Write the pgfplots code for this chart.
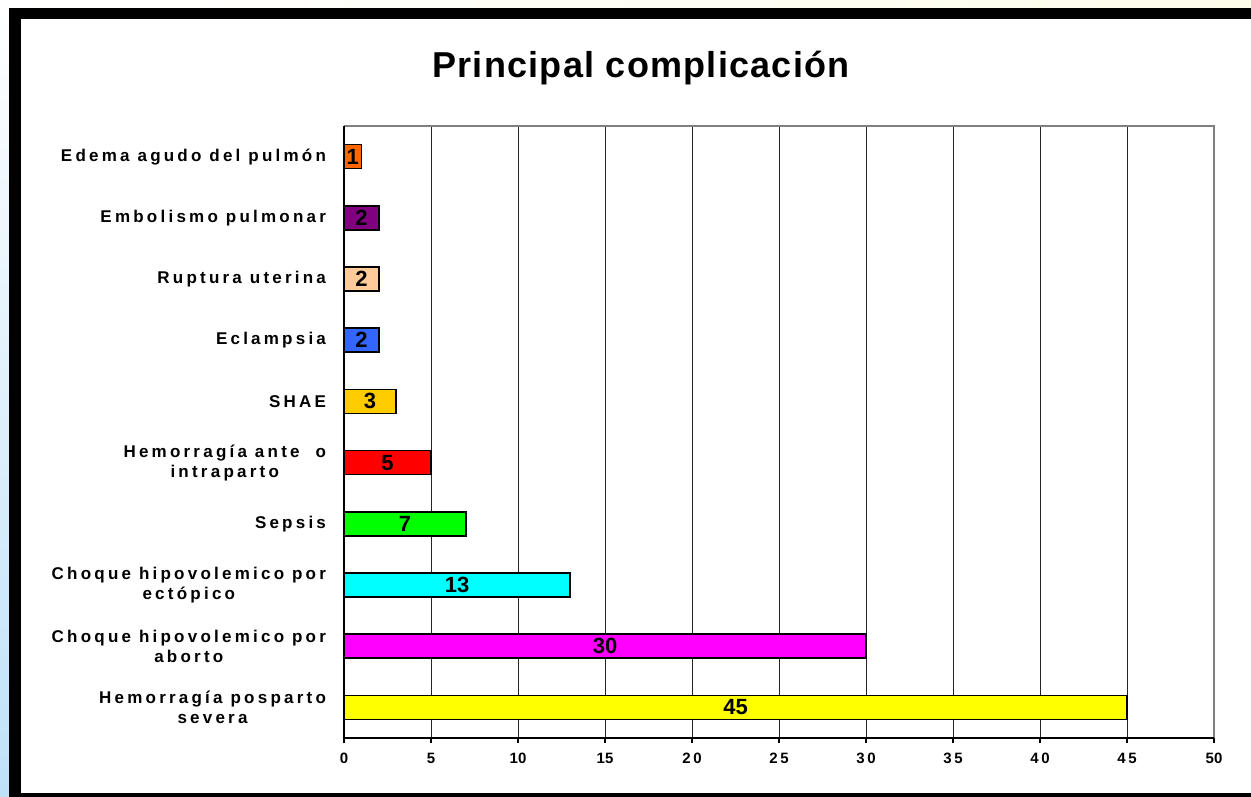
\documentclass[border=0pt]{standalone}
\usepackage{fontspec}
\setmainfont{Liberation Sans}
\newfontfamily\spfont[LetterSpace=19]{Liberation Sans}
\newfontfamily\tickfont[LetterSpace=18]{Liberation Sans}
\newfontfamily\titlefont[LetterSpace=3.5]{Liberation Sans}
\usepackage{pgfplots}
\pgfplotsset{compat=1.18}
\usepackage{pgfplotstable}
\definecolor{cOrange}{RGB}{255,102,0}
\definecolor{cPurple}{RGB}{128,0,128}
\definecolor{cPeach}{RGB}{255,204,153}
\definecolor{cBlue}{RGB}{51,102,255}
\definecolor{cGold}{RGB}{255,204,0}
\definecolor{cRed}{RGB}{255,0,0}
\definecolor{cGreen}{RGB}{0,255,0}
\definecolor{cCyan}{RGB}{0,255,255}
\definecolor{cMagenta}{RGB}{255,0,255}
\definecolor{cYellow}{RGB}{255,255,0}
\pgfplotstableread{
idx v
0 45
1 30
2 13
3 7
4 5
5 3
6 2
7 2
8 2
9 1
}\datatable
\begin{document}
\begin{tikzpicture}
\path[use as bounding box] (0,0) rectangle (625.5bp,-398.5bp);
% frame decorations
\fill[white] (0,0) rectangle (625.5bp,-398.5bp);
\shade[left color=white, right color={rgb,255:red,253;green,252;blue,235}] (0,0) rectangle (625.5bp,-4bp);
\shade[top color=white, bottom color={rgb,255:red,190;green,225;blue,248}] (0,-4bp) rectangle (4.5bp,-398.5bp);
\fill[black] (4.5bp,-4bp) rectangle (625.5bp,-9.5bp);
\fill[black] (4.5bp,-4bp) rectangle (10.5bp,-398.5bp);
\fill[black] (4.5bp,-396.5bp) rectangle (625.5bp,-398.5bp);
\node[font=\titlefont\bfseries\fontsize{18bp}{21bp}\selectfont] at (320.5bp,-34bp) {Principal complicación};
\begin{axis}[
  at={(172bp,-369bp)}, anchor=south west,
  scale only axis, width=435bp, height=306bp,
  xmin=0, xmax=50, ymin=-0.5, ymax=9.5,
  /pgf/number format/assume math mode=true,
  xtick={0,5,...,50},
  xtick pos=bottom, ytick pos=left,
  xticklabels={0,5,10,15,{\tickfont 20},{\tickfont 25},{\tickfont 30},{\tickfont 35},{\tickfont 40},{\tickfont 45},50},
  xticklabel style={font=\bfseries\fontsize{7.5bp}{8bp}\selectfont, yshift=-1.5bp},
  xmajorgrids, grid style={black!85, line width=0.5bp},
  major tick length=2.5bp,
  xtick align=outside, ytick align=outside,
  ytick={0,...,9},
  yticklabels={{Hemorragía posparto\\severa},{Choque hipovolemico por\\aborto},{Choque hipovolemico por\\ectópico},Sepsis,{Hemorragía ante\ \ o\\intraparto},SHAE,Eclampsia,{Ruptura uterina},{Embolismo pulmonar},{Edema agudo del pulmón}},
  yticklabel style={font=\spfont\bfseries\fontsize{8.5bp}{10bp}\selectfont, align=center, xshift=-3bp},
  ytick style={draw=none},
  minor ytick={-0.5,0.5,...,9.5},
  minor tick length=2.5bp,
  minor tick style={black, line width=0.6bp},
  major tick style={black, line width=0.6bp},
  axis line style={draw=none},
  clip=false,
  every axis plot/.append style={line width=0.75bp},
  barsty/.style={xbar, bar width=12bp, bar shift=0pt, draw=black, fill=#1},
]
\draw[gray, line width=1bp] (rel axis cs:0,1) -- (rel axis cs:1,1) -- (rel axis cs:1,0);
\draw[black, line width=0.6bp] (rel axis cs:0,1) -- (rel axis cs:0,0) -- (rel axis cs:1,0);
\addplot[barsty=cYellow] coordinates {(45,0)};
\addplot[barsty=cMagenta] coordinates {(30,1)};
\addplot[barsty=cCyan] coordinates {(13,2)};
\addplot[barsty=cGreen] coordinates {(7,3)};
\addplot[barsty=cRed] coordinates {(5,4)};
\addplot[barsty=cGold] coordinates {(3,5)};
\addplot[barsty=cBlue] coordinates {(2,6)};
\addplot[barsty=cPeach] coordinates {(2,7)};
\addplot[barsty=cPurple] coordinates {(2,8)};
\addplot[barsty=cOrange] coordinates {(1,9)};
\addplot[draw=none, mark=none, point meta=explicit,
  nodes near coords,
  nodes near coords style={anchor=center, inner sep=0pt, font=\bfseries\fontsize{11bp}{12bp}\selectfont}]
  table[x expr=\thisrow{v}/2, y=idx, meta=v] {\datatable};
\end{axis}
\end{tikzpicture}
\end{document}
